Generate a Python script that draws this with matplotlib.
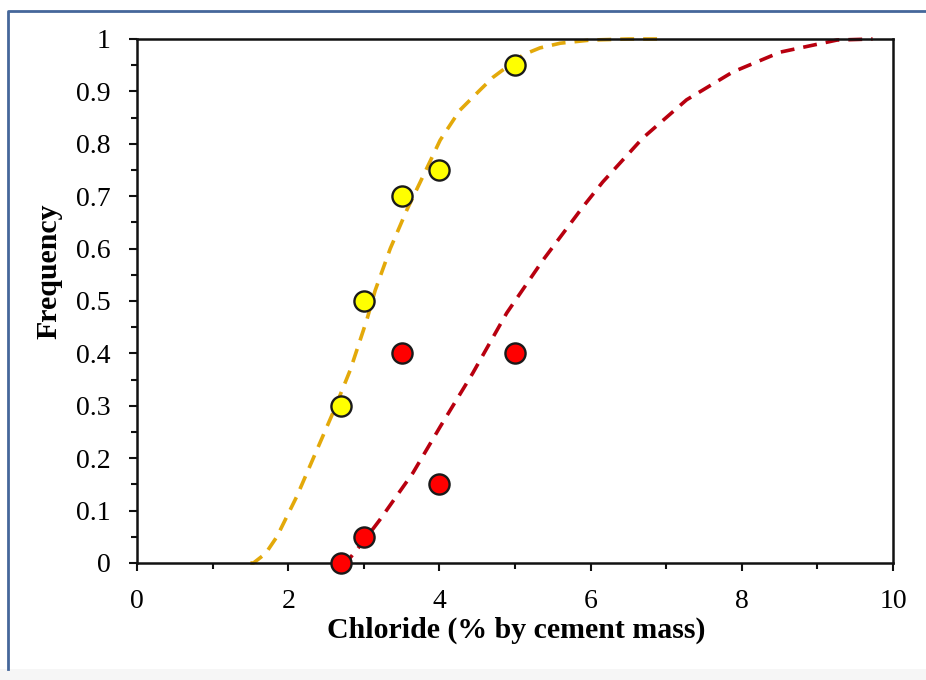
import matplotlib
matplotlib.use("Agg")
import matplotlib.pyplot as plt
from matplotlib.lines import Line2D
from matplotlib.patches import Rectangle
from matplotlib.ticker import MultipleLocator

plt.rcParams['font.family'] = ['Liberation Serif', 'DejaVu Serif']
plt.rcParams['lines.scale_dashes'] = False

# Observed frequencies
chloride_yellow = [2.7, 3.0, 3.5, 4.0, 5.0]
freq_yellow = [0.30, 0.50, 0.70, 0.75, 0.95]
chloride_red = [2.7, 3.0, 3.5, 4.0, 5.0]
freq_red = [0.00, 0.05, 0.40, 0.15, 0.40]

# Fitted cumulative curves
fit_yellow_x = [1.50, 1.54, 1.70, 1.85, 2.11, 2.38, 2.59, 2.82, 3.04, 3.15, 3.35,
                3.57, 3.74, 4.01, 4.27, 4.54, 4.71, 5.11, 5.33, 5.60, 6.00, 6.50, 6.92]
fit_yellow_y = [0.000, 0.000, 0.018, 0.050, 0.126, 0.216, 0.286, 0.368, 0.464, 0.520, 0.600,
                0.674, 0.725, 0.807, 0.864, 0.903, 0.927, 0.970, 0.983, 0.992, 0.998, 1.000, 1.000]
fit_red_x = [2.70, 2.82, 3.00, 3.21, 3.65, 4.01, 4.44, 4.89, 5.37, 5.90, 6.16,
             6.69, 7.27, 7.88, 8.51, 9.26, 9.73]
fit_red_y = [0.000, 0.010, 0.042, 0.082, 0.172, 0.260, 0.362, 0.477, 0.578, 0.680, 0.727,
             0.811, 0.884, 0.937, 0.975, 0.998, 1.000]

x_ticks = [0, 2, 4, 6, 8, 10]
y_ticks = [0, 0.1, 0.2, 0.3, 0.4, 0.5, 0.6, 0.7, 0.8, 0.9, 1.0]
y_tick_labels = ['0', '0.1', '0.2', '0.3', '0.4', '0.5', '0.6', '0.7', '0.8', '0.9', '1']

fig = plt.figure(figsize=(9.26, 6.8), dpi=100)
ax = fig.add_axes([137 / 926, 1 - 563 / 680, (893 - 137) / 926, (563 - 39) / 680])

ax.plot(fit_yellow_x, fit_yellow_y, color='#E3A90A', lw=2.6, dashes=(10, 6.5),
        dash_capstyle='butt', zorder=2, clip_on=False)
ax.plot(fit_red_x, fit_red_y, color='#B8000F', lw=2.6, dashes=(10, 6.5),
        dash_capstyle='butt', zorder=2, clip_on=False)
ax.plot(chloride_yellow, freq_yellow, 'o', ms=14.5, mfc='#FFFF00', mec='#1a1a1a',
        mew=1.7, zorder=4, clip_on=False)
ax.plot(chloride_red, freq_red, 'o', ms=14.5, mfc='#FF0000', mec='#1a1a1a',
        mew=1.7, zorder=4, clip_on=False)

ax.set_xlim(0, 10)
ax.set_ylim(0, 1)
ax.set_xticks(x_ticks)
ax.set_xticklabels([str(v) for v in x_ticks])
ax.set_yticks(y_ticks)
ax.set_yticklabels(y_tick_labels)
ax.xaxis.set_minor_locator(MultipleLocator(1))
ax.yaxis.set_minor_locator(MultipleLocator(0.05))

for s in ax.spines.values():
    s.set_linewidth(1.8)
    s.set_color('#111111')
ax.tick_params(which='both', direction='out', top=False, right=False,
               width=1.5, color='#111111')
ax.tick_params(which='major', length=6)
ax.tick_params(which='minor', length=4)
ax.tick_params(axis='y', which='major', labelsize=20, pad=13)
ax.tick_params(axis='x', which='major', labelsize=20, pad=13)

ax.set_xlabel('Chloride (% by cement mass)', fontsize=21.5, fontweight='bold')
ax.set_ylabel('Frequency', fontsize=21.5, fontweight='bold')
ax.xaxis.set_label_coords(0.501, -0.102)
ax.yaxis.set_label_coords(-0.099, 0.557)

# Panel frame and lower band
fig.patches.append(Rectangle((0, 0), 1, 11 / 680, transform=fig.transFigure,
                             facecolor='#F6F6F6', edgecolor='none', zorder=0))
fig.lines.append(Line2D([8 / 926, 8 / 926, 1.0], [11 / 680, 1 - 11 / 680, 1 - 11 / 680],
                        transform=fig.transFigure, color='#45679A', lw=2.0))

fig.savefig('out.png', dpi=100)
